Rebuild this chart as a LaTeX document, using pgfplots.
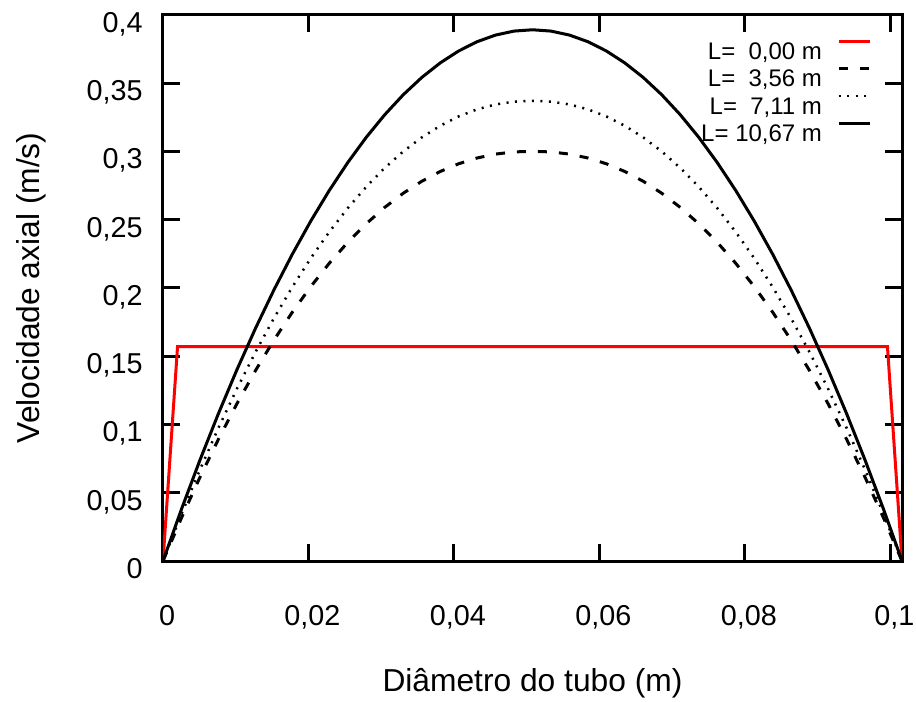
\documentclass[border=0pt]{standalone}
\usepackage{fontspec}
\setmainfont{Liberation Sans}
\usepackage{pgfplots}
\usepackage{pgfplotstable}
\pgfplotsset{compat=1.18}
\usetikzlibrary{calc}

% perfil de velocidade axial ao longo do diametro (D = 0,1016 m)
\pgfplotstableread{
x        u356     u711     u1067
0.00000  0.00000  0.00000  0.00000
0.00254  0.03160  0.03441  0.03793
0.00508  0.06131  0.06689  0.07391
0.00762  0.08916  0.09744  0.10795
0.01016  0.11515  0.12608  0.14004
0.01270  0.13931  0.15281  0.17019
0.01524  0.16165  0.17766  0.19839
0.01778  0.18220  0.20062  0.22465
0.02032  0.20098  0.22172  0.24896
0.02286  0.21802  0.24097  0.27133
0.02540  0.23334  0.25839  0.29175
0.02794  0.24696  0.27399  0.31023
0.03048  0.25892  0.28780  0.32676
0.03302  0.26926  0.29983  0.34135
0.03556  0.27800  0.31011  0.35399
0.03810  0.28519  0.31866  0.36469
0.04064  0.29087  0.32553  0.37344
0.04318  0.29511  0.33073  0.38025
0.04572  0.29797  0.33432  0.38511
0.04826  0.29955  0.33638  0.38803
0.05080  0.30000  0.33700  0.38900
0.05334  0.29955  0.33638  0.38803
0.05588  0.29797  0.33432  0.38511
0.05842  0.29511  0.33073  0.38025
0.06096  0.29087  0.32553  0.37344
0.06350  0.28519  0.31866  0.36469
0.06604  0.27800  0.31011  0.35399
0.06858  0.26926  0.29983  0.34135
0.07112  0.25892  0.28780  0.32676
0.07366  0.24696  0.27399  0.31023
0.07620  0.23334  0.25839  0.29175
0.07874  0.21802  0.24097  0.27133
0.08128  0.20098  0.22172  0.24896
0.08382  0.18220  0.20062  0.22465
0.08636  0.16165  0.17766  0.19839
0.08890  0.13931  0.15281  0.17019
0.09144  0.11515  0.12608  0.14004
0.09398  0.08916  0.09744  0.10795
0.09652  0.06131  0.06689  0.07391
0.09906  0.03160  0.03441  0.03793
0.10160  0.00000  0.00000  0.00000
}\perfil

\begin{document}
\begin{tikzpicture}
\begin{axis}[
  scale only axis, width=295.6pt, height=218.5pt,
  xmin=0, xmax=0.1016, ymin=0, ymax=0.4,
  xtick={0,0.02,0.04,0.06,0.08,0.1},
  ytick={0,0.05,0.1,0.15,0.2,0.25,0.3,0.35,0.4},
  scaled ticks=false,
  tick align=inside, major tick length=6.8pt,
  tick style={black, line width=1.2pt},
  axis line style={line width=1.2pt},
  tick label style={font=\fontsize{11.5}{13}\selectfont},
  xticklabel style={anchor=base, inner sep=0pt, yshift=-25.6pt, xshift=1.6pt},
  yticklabel style={anchor=base east, inner sep=0pt, xshift=-8pt, yshift=-7pt},
  xlabel={Diâmetro do tubo (m)},
  ylabel={Velocidade axial (m/s)},
  label style={font=\fontsize{12.7}{15}\selectfont},
  xlabel style={at={(axis description cs:0.5,-0.238)}, anchor=base, inner sep=0pt},
  ylabel style={at={(axis description cs:-0.1665,0.5)}, anchor=base, inner sep=0pt},
  legend style={at={(1,1)}, anchor=north east, xshift=-12.4pt, yshift=-10pt,
    draw=none, fill=none, inner sep=0pt, outer sep=0pt, row sep=2.2pt, column sep=6pt,
    nodes={inner sep=0pt, text height=6.5pt, text depth=1pt},
    font=\fontsize{9.6}{11}\selectfont},
  legend cell align=right,
  legend plot pos=right,
  legend image code/.code={\draw[#1] (0pt,4.5pt) -- (12.4pt,4.5pt);},
  /pgf/number format/use comma,
  /pgf/number format/fixed,
  /pgf/number format/precision=2,
  /pgf/number format/assume math mode=true,
]
\addplot[red, line width=1.2pt] coordinates {(0,0) (0.002,0.157) (0.0996,0.157) (0.1016,0)};
\addlegendentry{L=\ \ 0,00 m}
\addplot[black, line width=1.2pt, dash pattern=on 3.6pt off 4.8pt] table[x=x, y=u356] {\perfil};
\addlegendentry{L=\ \ 3,56 m}
\addplot[black, line width=1pt, dash pattern=on 0.8pt off 2.6pt] table[x=x, y=u711] {\perfil};
\addlegendentry{L=\ \ 7,11 m}
\addplot[black, line width=1.2pt] table[x=x, y=u1067] {\perfil};
\addlegendentry{L= 10,67 m}
\end{axis}
\pgfresetboundingbox
\path[use as bounding box] ($(current axis.south west)+(-65.2pt,-56.4pt)$) rectangle ($(current axis.north east)+(5.6pt,5.9pt)$);
\end{tikzpicture}
\end{document}
